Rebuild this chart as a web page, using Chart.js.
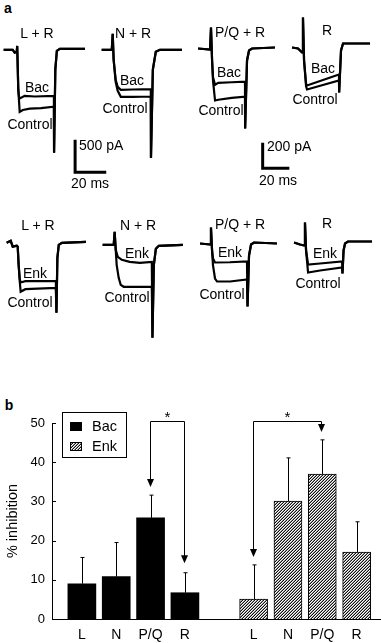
<!DOCTYPE html>
<html>
<head>
<meta charset="utf-8">
<script src="https://cdn.jsdelivr.net/npm/chart.js@4.4.1/dist/chart.umd.min.js"></script>
<style>
body { margin: 0; background: #fff; }
#fig { position: relative; width: 381px; height: 643px; overflow: hidden; font-family: "Liberation Sans", Arial, sans-serif; color: #000; }
#fig canvas { position: absolute; }
.lbl { position: absolute; transform: translate(-50%, -50%); white-space: nowrap; font-size: 14px; line-height: 1; }
.lft { transform: translate(0, -50%); }
.bold { font-weight: bold; font-size: 14px; }
</style>
</head>
<body>
<div id="fig"></div>
<script>
// ---- panel a: current traces, [time ms, current pA] ----
const panelNames = ["L + R", "N + R", "P/Q + R", "R"];

const bacControlTraces = [
    [[0,0],[5.8,0],[7.1,-45],[8.4,-30],[8.7,60],[9.4,-620],[10.3,-970],[12.3,-940],[16.8,-920],[24,-910],[32.3,-890],[32.4,-1610],[33.2,-310],[34.2,-15],[36.1,15],[52.3,15]],
    [[0,0],[6.5,0],[7.1,250],[7.7,-156],[9,-500],[10.3,-640],[12.3,-735],[20,-735],[31.6,-730],[31.7,-1690],[32.9,-310],[34.8,-30],[37.4,0],[51.6,0]],
    [[0,0],[8.9,-8],[9.6,168],[10.4,-96],[11.1,-260],[12.6,-416],[15,-410],[25,-395],[34.8,-385],[34.9,-640],[36.3,-96],[37.8,-16],[40,0],[57,8]],
    [[0,0],[4.4,-8],[7.4,-40],[8.1,240],[8.9,-104],[10.4,-310],[11.1,-336],[34.8,-264],[34.9,-360],[36.3,-24],[37.8,32],[57.8,32]]
];
const bacTraces = [
    [[0,0],[5.8,0],[7.1,-45],[8.4,-30],[8.7,60],[9.4,-620],[10,-765],[13.5,-720],[20,-730],[32.3,-720],[32.4,-1610],[33.2,-310],[34.2,-15],[36.1,15],[52.3,15]],
    [[0,0],[6.5,0],[7.1,250],[7.7,-156],[9,-470],[10.3,-580],[12.3,-625],[20,-620],[31.6,-615],[31.7,-1690],[32.9,-310],[34.8,-30],[37.4,0],[51.6,0]],
    [[0,0],[8.9,-8],[9.6,168],[10.4,-96],[11.1,-230],[12.6,-290],[15,-275],[25,-270],[34.8,-265],[34.9,-640],[36.3,-96],[37.8,-16],[40,0],[57,8]],
    [[0,0],[4.4,-8],[7.4,-40],[8.1,240],[8.9,-104],[10.4,-290],[11.1,-304],[34.8,-216],[34.9,-360],[36.3,-24],[37.8,32],[57.8,32]]
];
const enkControlTraces = [
    [[0,0],[2.6,30],[3.9,-60],[6.5,-45],[7.1,-60],[7.7,-345],[8.4,-600],[9,-766],[12,-725],[31.6,-704],[32,-1094],[32.6,-234],[33.5,-31],[35.5,0],[51,16]],
    [[0,0],[7.1,0],[7.7,203],[8.4,-78],[9,-313],[10.3,-516],[11.6,-625],[13.5,-656],[31.6,-656],[32,-1453],[32.9,-313],[34.2,-63],[36.1,-16],[51.6,0]],
    [[0,0],[7.4,-8],[8.1,128],[8.9,-56],[9.6,-176],[11.1,-280],[12.6,-304],[22.2,-304],[34.8,-288],[35.2,-504],[36.3,-96],[37.8,-8],[40,8],[57,0]],
    [[0,0],[4.4,-16],[7.4,-24],[8.1,160],[8.9,-64],[10.4,-240],[19.3,-224],[35.6,-200],[35.9,-248],[36.7,-64],[37.8,-8],[40,8],[57.8,8]]
];
const enkTraces = [
    [[0,0],[2.6,30],[3.9,-60],[6.5,-45],[7.1,-60],[7.7,-345],[8.4,-560],[9,-620],[12,-600],[31.6,-594],[32,-1094],[32.6,-234],[33.5,-31],[35.5,0],[51,16]],
    [[0,0],[7.1,0],[7.7,203],[8.4,-78],[9.7,-188],[12.3,-234],[17.4,-266],[23.9,-281],[31.6,-266],[32,-1453],[32.9,-313],[34.2,-63],[36.1,-16],[51.6,0]],
    [[0,0],[7.4,-8],[8.1,128],[8.9,-56],[9.6,-120],[11.1,-152],[22,-150],[34.8,-144],[35.2,-504],[36.3,-96],[37.8,-8],[40,8],[57,0]],
    [[0,0],[4.4,-16],[7.4,-24],[8.1,160],[8.9,-64],[10.4,-176],[19.3,-168],[35.6,-152],[35.9,-248],[36.7,-64],[37.8,-8],[40,8],[57.8,8]]
];
const scaleBarMs = [20, 20];
const scaleBarPA = [500, 200];

// ---- panel b: % inhibition ----
const categories = ["L", "N", "P/Q", "R"];
const bacValues = [9.0, 10.8, 25.8, 6.7];
const bacSem = [6.7, 8.7, 5.8, 5.1];
const enkValues = [5.1, 30.1, 37.0, 17.1];
const enkSem = [8.7, 11.0, 8.7, 7.7];
// significance: [group, from cat, to cat, bracket top, arrow tip at from, arrow tip at to]
const sigBrackets = [
    ["bac", 2, 3, 50.5, 33.7, 14.2],
    ["enk", 0, 2, 50.5, 15.8, 47.7]
];

Chart.defaults.font.family = '"Liberation Sans", Arial, sans-serif';
Chart.defaults.color = "#000";
const fig = document.getElementById("fig");

function label(text, x, y, cls) {
    const d = document.createElement("div");
    d.className = "lbl" + (cls ? " " + cls : "");
    d.textContent = text;
    d.style.left = x + "px";
    d.style.top = y + "px";
    fig.appendChild(d);
}

// px per ms / px per pA for the two scale bars
const leftScale = { kx: 1.55, ky: 0.064, yr: [-1800, 450] };
const rightScale = { kx: 1.35, ky: 0.125, yr: [-700, 300] };

function traceChart(x0, y0, sc, xr, yr, sets, lw) {
    const c = document.createElement("canvas");
    c.width = Math.round((xr[1] - xr[0]) * sc.kx);
    c.height = Math.round((yr[1] - yr[0]) * sc.ky);
    c.style.left = (x0 + xr[0] * sc.kx) + "px";
    c.style.top = (y0 - yr[1] * sc.ky) + "px";
    fig.appendChild(c);
    new Chart(c, {
        type: "line",
        data: {
            datasets: sets.map(s => ({
                data: s.map(p => ({ x: p[0], y: p[1] })),
                borderColor: "#000",
                borderWidth: lw,
                pointRadius: 0,
                tension: 0,
                borderJoinStyle: "miter",
                fill: false
            }))
        },
        options: {
            responsive: false,
            animation: false,
            events: [],
            layout: { padding: 0 },
            plugins: { legend: { display: false }, tooltip: { enabled: false } },
            scales: {
                x: { type: "linear", min: xr[0], max: xr[1], display: false },
                y: { type: "linear", min: yr[0], max: yr[1], display: false }
            }
        }
    });
}

const topOrigins = [[4, 50], [102, 50], [198, 48], [292, 47]];
const bottomOrigins = [[7, 243], [103, 245], [200, 243], [294, 242]];
const colScales = [leftScale, leftScale, rightScale, rightScale];

for (let i = 0; i < 4; i++) {
    const sc = colScales[i];
    traceChart(topOrigins[i][0], topOrigins[i][1], sc, [-3, 60], sc.yr, [bacControlTraces[i], bacTraces[i]], 2.2);
    traceChart(bottomOrigins[i][0], bottomOrigins[i][1], sc, [-3, 60], sc.yr, [enkControlTraces[i], enkTraces[i]], 2.2);
}

// scale bars
traceChart(75, 172, leftScale, [-2, 25], [-60, 560], [[[0, scaleBarPA[0]], [0, 0], [scaleBarMs[0], 0]]], 3);
traceChart(263, 168, rightScale, [-2, 25], [-30, 230], [[[0, scaleBarPA[1]], [0, 0], [scaleBarMs[1], 0]]], 3);

label("a", 8, 8, "bold");
label("b", 9, 405, "bold");

const topLabelPos = [[37, 33], [133, 33], [240, 32], [327, 30]];
const bottomLabelPos = [[38, 225], [138, 225], [240, 224], [327, 223]];
const bacPos = [[37, 87], [132, 80], [229, 72], [323, 68]];
const bacCtrlPos = [[30, 124], [125, 108], [221, 110], [315, 99]];
const enkPos = [[35, 273], [137, 253], [230, 252], [325, 253]];
const enkCtrlPos = [[30, 302], [127, 297], [222, 294], [318, 283]];
for (let i = 0; i < 4; i++) {
    label(panelNames[i], topLabelPos[i][0], topLabelPos[i][1]);
    label(panelNames[i], bottomLabelPos[i][0], bottomLabelPos[i][1]);
    label("Bac", bacPos[i][0], bacPos[i][1]);
    label("Control", bacCtrlPos[i][0], bacCtrlPos[i][1]);
    label("Enk", enkPos[i][0], enkPos[i][1]);
    label("Control", enkCtrlPos[i][0], enkCtrlPos[i][1]);
}
label(scaleBarPA[0] + " pA", 79, 145, "lft");
label(scaleBarMs[0] + " ms", 90, 183);
label(scaleBarPA[1] + " pA", 267, 146, "lft");
label(scaleBarMs[1] + " ms", 278, 180);

// ---- panel b chart ----
// dense diagonal hatch, 3px period
function hatch() {
    const p = document.createElement("canvas");
    p.width = 3; p.height = 3;
    const g = p.getContext("2d");
    g.fillStyle = "#fff";
    g.fillRect(0, 0, 3, 3);
    g.fillStyle = "#111";
    g.fillRect(0, 2, 1, 1); g.fillRect(1, 1, 1, 1); g.fillRect(2, 0, 1, 1);
    g.fillStyle = "#999";
    g.fillRect(0, 1, 1, 1); g.fillRect(1, 0, 1, 1); g.fillRect(2, 2, 1, 1);
    return g.createPattern(p, "repeat");
}
const enkFill = hatch();

// slot index on the x axis: one empty slot between the groups
const bacSlot = i => i + 1;
const enkSlot = i => i + categories.length + 2;

const extras = {
    id: "extras",
    afterDatasetsDraw(chart) {
        const ctx = chart.ctx, xs = chart.scales.x, ys = chart.scales.y;
        ctx.save();
        ctx.strokeStyle = "#000";
        ctx.fillStyle = "#000";
        ctx.lineWidth = 1;
        // inward y ticks
        const ax = chart.chartArea.left;
        ys.ticks.forEach(t => {
            const y = Math.round(ys.getPixelForValue(t.value)) + 0.5;
            ctx.beginPath(); ctx.moveTo(ax, y); ctx.lineTo(ax + 4, y); ctx.stroke();
        });
        // error bars (upward only)
        [[bacValues, bacSem, bacSlot], [enkValues, enkSem, enkSlot]].forEach(([vals, sem, slot]) => {
            vals.forEach((v, i) => {
                const x = Math.round(xs.getPixelForValue(slot(i))) + 0.5;
                const y1 = ys.getPixelForValue(v), y2 = ys.getPixelForValue(v + sem[i]);
                ctx.beginPath();
                ctx.moveTo(x, y1); ctx.lineTo(x, y2);
                ctx.moveTo(x - 2, y2); ctx.lineTo(x + 2, y2);
                ctx.stroke();
            });
        });
        // significance brackets
        sigBrackets.forEach(([grp, a, b, top, tipA, tipB]) => {
            const slot = grp === "bac" ? bacSlot : enkSlot;
            const xa = Math.round(xs.getPixelForValue(slot(a))) - 0.5;
            const xb = Math.round(xs.getPixelForValue(slot(b))) - 0.5;
            const yt = Math.round(ys.getPixelForValue(top)) + 0.5;
            const ya = ys.getPixelForValue(tipA), yb = ys.getPixelForValue(tipB);
            ctx.beginPath();
            ctx.moveTo(xa, ya - 6); ctx.lineTo(xa, yt); ctx.lineTo(xb, yt); ctx.lineTo(xb, yb - 6);
            ctx.stroke();
            [[xa, ya], [xb, yb]].forEach(([x, y]) => {
                ctx.beginPath();
                ctx.moveTo(x, y); ctx.lineTo(x - 3.5, y - 8); ctx.lineTo(x + 3.5, y - 8);
                ctx.closePath(); ctx.fill();
            });
            ctx.font = "15px 'Liberation Sans', Arial, sans-serif";
            ctx.textAlign = "center";
            ctx.textBaseline = "middle";
            ctx.fillText("*", (xa + xb) / 2, yt - 4);
        });
        // legend box
        const lx = chart.chartArea.left + 10, ly = chart.chartArea.top - 11;
        ctx.strokeRect(lx + 0.5, ly + 0.5, 64, 45);
        ctx.font = "14.5px 'Liberation Sans', Arial, sans-serif";
        ctx.textAlign = "left";
        ctx.textBaseline = "middle";
        chart.data.datasets.forEach((ds, i) => {
            const sy = ly + 10 + i * 20;
            ctx.fillStyle = ds.backgroundColor;
            ctx.fillRect(lx + 8, sy, 12, 9);
            ctx.strokeRect(lx + 8.5, sy + 0.5, 11, 8);
            ctx.fillStyle = "#000";
            ctx.fillText(ds.label, lx + 30, sy + 5);
        });
        ctx.restore();
    }
};

const bc = document.createElement("canvas");
bc.width = 381; bc.height = 253;
bc.style.left = "0px"; bc.style.top = "390px";
fig.appendChild(bc);

const tickSlots = categories.map((c, i) => bacSlot(i)).concat(categories.map((c, i) => enkSlot(i)));

new Chart(bc, {
    type: "bar",
    data: {
        datasets: [
            {
                label: "Bac",
                data: bacValues.map((v, i) => ({ x: bacSlot(i), y: v })),
                backgroundColor: "#000",
                borderColor: "#000",
                borderWidth: 0,
                barThickness: 28,
                grouped: false
            },
            {
                label: "Enk",
                data: enkValues.map((v, i) => ({ x: enkSlot(i), y: v })),
                backgroundColor: enkFill,
                borderColor: "#000",
                borderWidth: 1,
                barThickness: 28,
                grouped: false
            }
        ]
    },
    options: {
        responsive: false,
        animation: false,
        events: [],
        layout: { padding: { top: 33, right: 1, left: 0, bottom: 0 } },
        plugins: { legend: { display: false }, tooltip: { enabled: false } },
        scales: {
            x: {
                type: "linear",
                offset: false,
                bounds: "ticks",
                min: 0.13,
                max: 9.68,
                afterFit: s => { s.height = 24; },
                afterBuildTicks: s => { s.ticks = tickSlots.map(v => ({ value: v })); },
                grid: { display: false, drawTicks: false },
                border: { display: true, color: "#000", width: 1 },
                ticks: {
                    font: { size: 14 },
                    padding: 8,
                    maxRotation: 0,
                    autoSkip: false,
                    callback: v => categories[(v - 1) % (categories.length + 1)] || ""
                }
            },
            y: {
                min: 0,
                max: 50,
                afterFit: s => { s.width = 52; },
                grid: { display: false, drawTicks: false },
                border: { display: true, color: "#000", width: 1 },
                ticks: { stepSize: 10, font: { size: 13 }, padding: 7 },
                title: { display: true, text: "% inhibition", font: { size: 14.5 }, padding: { top: 4, bottom: 0 } }
            }
        }
    },
    plugins: [extras]
});
</script>
</body>
</html>
